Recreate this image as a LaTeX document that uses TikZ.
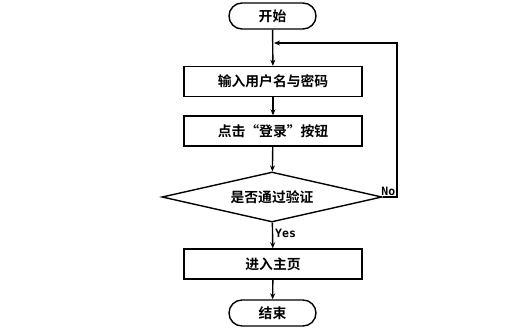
\documentclass[tikz,border=0pt]{standalone}
\usepackage{fontspec}
\newfontfamily\cjk{Noto Sans CJK SC}[BoldFont={Noto Sans CJK SC Bold}]
\newfontfamily\latmono{DejaVu Sans Mono}[BoldFont={DejaVu Sans Mono Bold}]
\usetikzlibrary{arrows.meta,shapes.geometric}
\begin{document}
\begin{tikzpicture}[x=1pt,y=-1pt,
  font=\cjk\bfseries\fontsize{13.8}{16}\selectfont,
  every path/.style={line width=1.4pt},
  term/.style={draw,rounded corners=13pt,minimum width=87pt,minimum height=26pt,inner sep=0pt},
  proc/.style={draw,minimum width=178pt,minimum height=30pt,inner sep=0pt},
  dec/.style={draw,diamond,aspect=4.4,minimum width=220pt,minimum height=50pt,inner sep=0pt},
  arr/.style={-{Stealth[length=6pt,width=5pt]}},
  lbl/.style={font=\latmono\bfseries\fontsize{11.5}{13}\selectfont}]
\useasboundingbox (0,0) rectangle (527,333);
\node[term] (start) at (272.5,16) {开始};
\node[proc] (in) at (273,81.5) {输入用户名与密码};
\node[proc] (click) at (273,131) {点击“登录”按钮};
\node[dec] (chk) at (272,197) {是否通过验证};
\node[proc] (home) at (273,264) {进入主页};
\node[term] (end) at (272.5,313) {结束};
\coordinate (c1) at (397,197);
\coordinate (c2) at (397,43);
\coordinate (m) at (274,43);
\draw[arr] (start) -- (in);
\draw[arr] (in) -- (click);
\draw[arr] (click) -- (chk);
\draw[arr] (chk) -- node[lbl,right,pos=0.4,inner sep=2pt] {Yes} (home);
\draw[arr] (home) -- (end);
\draw[arr] (chk.east) -- (c1) node[lbl,above left,inner sep=1pt] {No} -- (c2) -- (m);
\end{tikzpicture}
\end{document}
